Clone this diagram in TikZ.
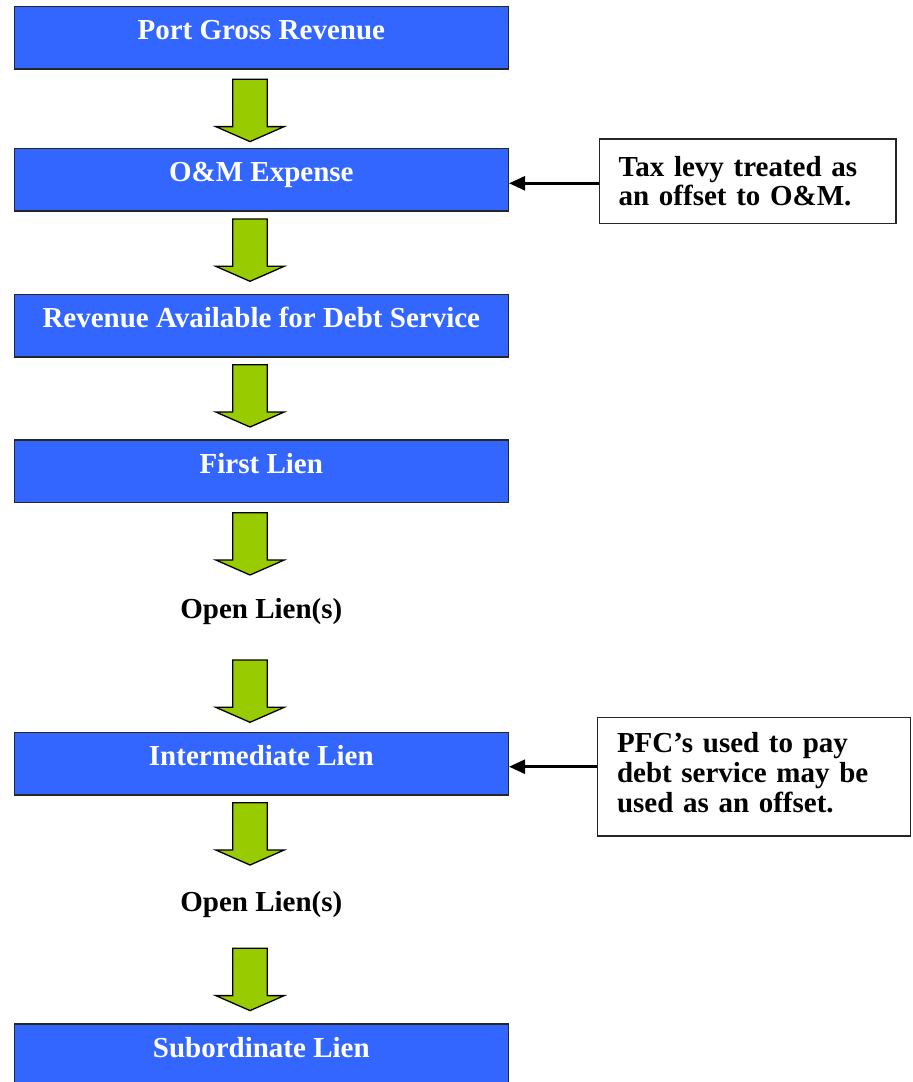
\documentclass[tikz,border=0pt]{standalone}
\usepackage{fontspec}
\setmainfont{Liberation Serif}
\usetikzlibrary{arrows.meta}
\definecolor{boxblue}{HTML}{3366FF}
\definecolor{arrowgreen}{HTML}{99CC00}
\begin{document}
\begin{tikzpicture}[x=1pt,y=1pt,
	mainbox/.style={draw=black!85,line width=1.5pt,fill=boxblue,text=white,
		font=\bfseries\fontsize{29}{29}\selectfont,minimum width=494pt,minimum height=62.5pt,
		inner sep=0pt,text height=20pt,text depth=16.4pt},
	notebox/.style={draw=black!85,line width=1.3pt,fill=white,align=left,
		font=\bfseries\fontsize{29}{29}\selectfont,inner xsep=19pt,inner ysep=0pt},
	openlabel/.style={anchor=base,font=\bfseries\fontsize{29}{29}\selectfont},
	flowarrow/.style={draw=black,line width=1.3pt,fill=arrowgreen,line join=miter},
	sidearrow/.style={line width=2.7pt,-{Triangle[length=16pt,width=14pt]}}]
		\useasboundingbox (0,0) rectangle (913,-1082);
		\clip (0,0) rectangle (913,-1082);
		\node[mainbox] (gross) at (261.3,-37.5) {Port Gross Revenue};
		\node[mainbox] (om) at (261.3,-179.5) {O\&M Expense};
		\node[mainbox] (avail) at (261.3,-325.5) {Revenue Available for Debt Service};
		\node[mainbox] (first) at (261.3,-471.3) {First Lien};
		\node[openlabel] (openA) at (261.3,-618.3) {Open Lien(s)};
		\node[mainbox] (inter) at (261.3,-763.5) {Intermediate Lien};
		\node[openlabel] (openB) at (261.3,-911.7) {Open Lien(s)};
		\node[mainbox] (sub) at (261.3,-1055.3) {Subordinate Lien};
		% block arrows down the column
		\foreach \i/\y in {1/79.3,2/219,3/364.7,4/512.7,5/660,6/802.7,7/948.3}
		{
			\coordinate (arr\i) at (250,-\y);
			\filldraw[flowarrow] (arr\i) ++(-17.3,0) -- ++(34.6,0) -- ++(0,-47.3) -- ++(16.9,0)
				-- ++(-34.2,-15) -- ++(-34.2,15) -- ++(16.9,0) -- cycle;
		}
		% notes at the side
		\node[notebox,minimum width=296.7pt,minimum height=84.3pt,text width=258pt] (tax) at (747.7,-181.2)
			{Tax levy treated as\\an offset to O\&M.};
		\node[notebox,minimum width=313.4pt,minimum height=118.7pt,text width=274pt,
			font=\bfseries\fontsize{29}{30}\selectfont,text depth=69pt] (pfc) at (754,-776.7)
			{PFC’s used to pay\\debt service may be\\used as an offset.};
		\coordinate (omin) at ([yshift=-3.8pt]om.east);
		\coordinate (interin) at ([yshift=-3.2pt]inter.east);
		\draw[sidearrow] (omin -| tax.west) -- (omin);
		\draw[sidearrow] (interin -| pfc.west) -- (interin);
\end{tikzpicture}
\end{document}
